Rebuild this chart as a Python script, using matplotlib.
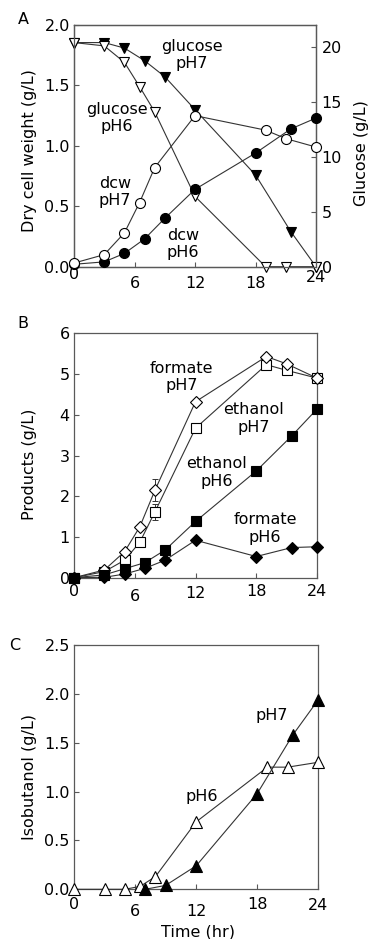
import matplotlib
matplotlib.use("Agg")
import matplotlib.pyplot as plt
import matplotlib.transforms as mtransforms

# sampling times (open symbols / filled symbols)
t_open = [0, 3, 5, 6.5, 8, 12, 19, 21, 24]
t_fill = [0, 3, 5, 7, 9, 12, 18, 21.5, 24]

# A: glucose (right axis) and dry cell weight (left axis)
glc_open = [20.4, 20.1, 18.6, 16.4, 14.1, 6.4, 0, 0, 0]
glc_fill = [20.4, 20.4, 19.9, 18.75, 17.3, 14.3, 8.35, 3.2, 0]
dcw_open = [0.03, 0.10, 0.28, 0.53, 0.82, 1.25, 1.13, 1.06, 0.99]
dcw_fill = [0.02, 0.04, 0.11, 0.23, 0.40, 0.64, 0.94, 1.14, 1.23]

# B: products
formate_open = [0, 0.19, 0.64, 1.25, 2.15, 4.32, 5.43, 5.25, 4.9]
formate_open_err = [0, 0, 0, 0, 0.27, 0, 0, 0, 0]
ethanol_open = [0, 0.15, 0.43, 0.87, 1.62, 3.67, 5.23, 5.09, 4.9]
ethanol_open_err = [0, 0, 0, 0, 0.2, 0, 0, 0, 0]
ethanol_fill = [0, 0.07, 0.22, 0.37, 0.68, 1.38, 2.62, 3.48, 4.14]
formate_fill = [0, 0.01, 0.09, 0.23, 0.43, 0.92, 0.52, 0.74, 0.76]

# C: isobutanol
iso_open = [0, 0, 0, 0.03, 0.13, 0.69, 1.25, 1.25, 1.30]
t_iso_fill = [7, 9, 12, 18, 21.5, 24]
iso_fill = [0, 0.04, 0.24, 0.98, 1.58, 1.94]

x_ticks = [0, 6, 12, 18, 24]

FS = 11.5
LC = "0.2"
SC = "0.35"
plt.rcParams["font.family"] = ["DejaVu Sans"]
plt.rcParams["font.size"] = FS

W, H = 371, 939
fig = plt.figure(figsize=(W / 100, H / 100), dpi=100)


def px_axes(l, t, r, b):
    return fig.add_axes([l / W, 1 - b / H, (r - l) / W, (b - t) / H])


def style(ax):
    for s in ax.spines.values():
        s.set_color(SC)
        s.set_linewidth(0.9)
    ax.tick_params(direction="in", length=3.5, width=0.8, color=SC,
                   labelsize=FS, pad=3)


def series(ax, x, y, m, filled, ms, z, yerr=None):
    fc = "black" if filled else "white"
    if yerr is not None:
        ax.errorbar(x, y, yerr=yerr, fmt="none", ecolor=LC, elinewidth=0.7,
                    capsize=2, capthick=0.7, zorder=z - 0.5, clip_on=False)
    ax.plot(x, y, color=LC, lw=0.8, marker=m, ms=ms, mfc=fc, mec="black",
            mew=0.8, zorder=z, clip_on=False)


def shift_xlabels(ax, dys):
    # move single tick labels down by dy pixels
    for lbl, dy in zip(ax.get_xticklabels(), dys):
        off = mtransforms.ScaledTranslation(0, -dy / 100, fig.dpi_scale_trans)
        lbl.set_transform(lbl.get_transform() + off)


def xaxis(ax, dys):
    ax.set_xlim(0, 24)
    ax.set_xticks(x_ticks)
    ax.set_xticklabels([str(v) for v in x_ticks])
    shift_xlabels(ax, dys)


def note(ax, x, y, s):
    ax.text(x, y, s, ha="center", va="center", fontsize=FS, linespacing=1.2,
            zorder=10)


# ---------------- A ----------------
axA = px_axes(74, 25, 316, 266.7)
axA2 = axA.twinx()
style(axA)
style(axA2)
axA.set_zorder(axA2.get_zorder() + 1)
axA.patch.set_visible(False)

series(axA2, t_fill, glc_fill, "v", True, 7.2, 3)
series(axA2, t_open, glc_open, "v", False, 7.2, 4)
series(axA, t_fill, dcw_fill, "o", True, 7.2, 5)
series(axA, t_open, dcw_open, "o", False, 7.2, 6)

axA.set_ylim(0, 2.0)
axA.set_yticks([0, 0.5, 1.0, 1.5, 2.0])
axA.set_yticklabels(["0.0", "0.5", "1.0", "1.5", "2.0"])
axA2.set_ylim(0, 22)
axA2.set_yticks([0, 5, 10, 15, 20])
axA2.tick_params(axis="y", pad=4)
xaxis(axA, [-4, 5, 5, 5, -1])
axA.set_ylabel("Dry cell weight (g/L)", fontsize=FS)
axA.yaxis.label.set_va("center")
axA.yaxis.set_label_coords(-0.185, 0.48)
axA2.set_ylabel("Glucose (g/L)", fontsize=FS, rotation=90)
axA2.yaxis.label.set_va("center")
axA2.yaxis.set_label_coords(1.19, 0.47)

note(axA, 11.67, 1.75, "glucose\npH7")
note(axA, 4.26, 1.23, "glucose\npH6")
note(axA, 4.07, 0.62, "dcw\npH7")
note(axA, 10.8, 0.19, "dcw\npH6")

# ---------------- B ----------------
axB = px_axes(74, 333.3, 317, 577.7)
style(axB)
series(axB, t_open, ethanol_open, "s", False, 6.7, 3, ethanol_open_err)
series(axB, t_open, formate_open, "D", False, 5.9, 4, formate_open_err)
series(axB, t_fill, ethanol_fill, "s", True, 6.7, 5)
series(axB, t_fill, formate_fill, "D", True, 5.9, 6)
axB.set_ylim(0, 6)
axB.set_yticks(range(7))
xaxis(axB, [2, 7, 4, 2, 2])
axB.set_ylabel("Products (g/L)", fontsize=FS)
axB.yaxis.label.set_va("center")
axB.yaxis.set_label_coords(-0.184, 0.465)

note(axB, 10.64, 4.93, "formate\npH7")
note(axB, 17.75, 3.91, "ethanol\npH7")
note(axB, 14.09, 2.58, "ethanol\npH6")
note(axB, 18.86, 1.21, "formate\npH6")

# ---------------- C ----------------
axC = px_axes(74, 645, 318.3, 889.3)
style(axC)
series(axC, t_open, iso_open, "^", False, 8, 3)
series(axC, t_iso_fill, iso_fill, "^", True, 8, 4)
axC.set_ylim(0, 2.5)
axC.set_yticks([0, 0.5, 1.0, 1.5, 2.0, 2.5])
axC.set_yticklabels(["0.0", "0.5", "1.0", "1.5", "2.0", "2.5"])
xaxis(axC, [4, 11, 11, 4, 5])
axC.set_ylabel("Isobutanol (g/L)", fontsize=FS)
axC.yaxis.label.set_va("center")
axC.yaxis.set_label_coords(-0.183, 0.461)
axC.set_xlabel("Time (hr)", fontsize=FS)
axC.xaxis.label.set_va("center")
axC.xaxis.set_label_coords(0.509, -0.174)

note(axC, 19.44, 1.78, "pH7")
note(axC, 12.56, 0.95, "pH6")

# panel letters
fig.text(23 / W, 1 - 19 / H, "A", ha="center", va="center", fontsize=FS)
fig.text(22.5 / W, 1 - 324 / H, "B", ha="center", va="center", fontsize=FS)
fig.text(15 / W, 1 - 646 / H, "C", ha="center", va="center", fontsize=FS)

fig.savefig("out.png", dpi=100)
plt.close(fig)
